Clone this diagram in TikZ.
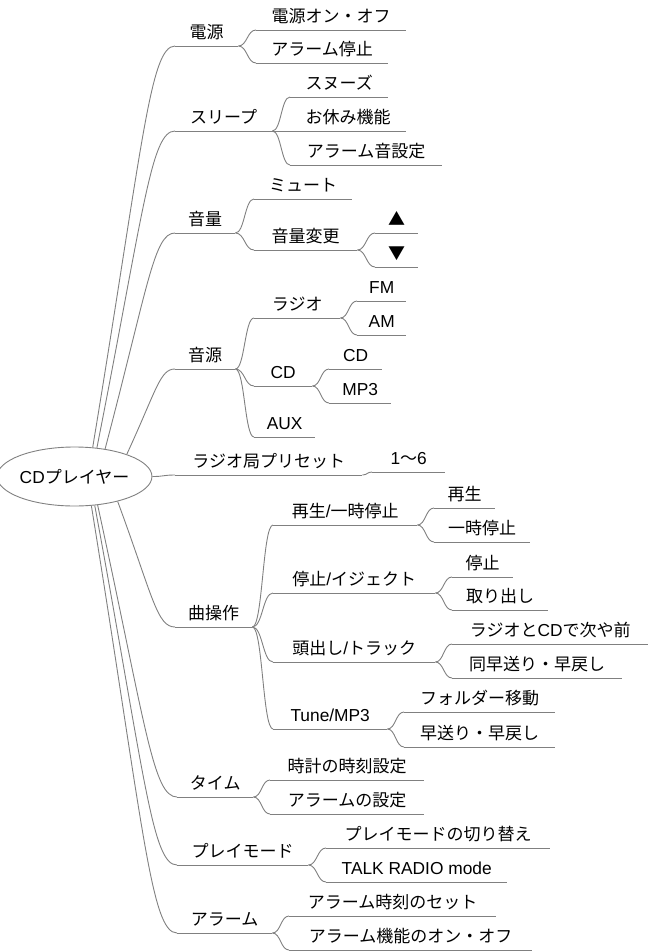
\documentclass[tikz,border=0pt]{standalone}
\usepackage{fontspec}
\setmainfont{Noto Sans CJK JP}
\newfontfamily\latfont{Liberation Sans}[Scale=1.02]
\newcommand\lat[1]{{\latfont #1}}
\usetikzlibrary{shapes.geometric,calc}
\definecolor{linegray}{RGB}{128,128,128}
\tikzset{
  line/.style={draw=linegray, line width=0.9pt},
  topic/.style={anchor=south west, inner xsep=0pt, inner ysep=0pt,
    text depth=7pt, font=\fontsize{17}{20}\selectfont, text=black},
  hcurve/.style={to path={let \p1=(\tikztostart), \p2=(\tikztotarget),
    \n1={0.5*(\x2-\x1)} in .. controls +(\n1,0) and +(-\n1,0) .. (\tikztotarget)}}
}
\begin{document}
\begin{tikzpicture}[x=1pt,y=-1pt]
\useasboundingbox (0,0) rectangle (648,951);
% root
\node[ellipse, draw=linegray, line width=0.9pt, minimum width=147pt, minimum height=59pt,
  inner sep=0pt, font=\fontsize{17}{20}\selectfont] (root) at (74.5,476.5) {\lat{CD}プレイヤー};
% level 1
\node[topic, minimum width=63pt] (A) at (175,46) {電源};
\node[topic, minimum width=97pt] (B) at (175,131) {スリープ};
\node[topic, minimum width=60pt] (C) at (175,233) {音量};
\node[topic, minimum width=60pt] (D) at (175,369) {音源};
\node[topic, minimum width=187pt] (E) at (175,475) {ラジオ局プリセット};
\node[topic, minimum width=77pt] (F) at (175,627) {曲操作};
\node[topic, minimum width=76pt] (G) at (177,797) {タイム};
\node[topic, minimum width=131pt] (H) at (177,865) {プレイモード};
\node[topic, minimum width=95pt] (I) at (177,933) {アラーム};
% level 2+
\node[topic, minimum width=150pt] (A1) at (256,30) {電源オン・オフ};
\node[topic, minimum width=132pt] (A2) at (256,63) {アラーム停止};
\node[topic, minimum width=98pt] (B1) at (290,97) {スヌーズ};
\node[topic, minimum width=116pt] (B2) at (290,131) {お休み機能};
\node[topic, minimum width=152pt] (B3) at (290,165) {アラーム音設定};
\node[topic, minimum width=98pt] (C1) at (254,199) {ミュート};
\node[topic, minimum width=103pt] (C2) at (254,250) {音量変更};
\node[topic, minimum width=43pt] (C2a) at (375,233) {▲};
\node[topic, minimum width=43pt] (C2b) at (375,267) {▼};
\node[topic, minimum width=86pt] (D1) at (254,318) {ラジオ};
\node[topic, minimum width=49pt] (D1a) at (357,301) {\lat{FM}};
\node[topic, minimum width=49pt] (D1b) at (357,335) {\lat{AM}};
\node[topic, minimum width=58pt] (D2) at (254,386) {\lat{CD}};
\node[topic, minimum width=53pt] (D2a) at (329,369) {\lat{CD}};
\node[topic, minimum width=62pt] (D2b) at (329,403) {\lat{MP3}};
\node[topic, minimum width=61pt] (D3) at (254,437) {\lat{AUX}};
\node[topic, minimum width=73pt] (E1) at (372,472) {\lat{1}〜\lat{6}};
\node[topic, minimum width=144pt] (F1) at (273,525) {再生\lat{/}一時停止};
\node[topic, minimum width=61pt] (F1a) at (434,508) {再生};
\node[topic, minimum width=96pt] (F1b) at (434,542) {一時停止};
\node[topic, minimum width=162pt] (F2) at (273,593) {停止\lat{/}イジェクト};
\node[topic, minimum width=61pt] (F2a) at (452,577) {停止};
\node[topic, minimum width=96pt] (F2b) at (452,610) {取り出し};
\node[topic, minimum width=162pt] (F3) at (273,662) {頭出し\lat{/}トラック};
\node[topic, minimum width=196pt] (F3a) at (452,644) {ラジオと\lat{CD}で次や前};
\node[topic, minimum width=170pt] (F3b) at (452,678) {同早送り・早戻し};
\node[topic, minimum width=114pt] (F4) at (273,729) {\lat{Tune/MP3}};
\node[topic, minimum width=151pt] (F4a) at (404,712) {フォルダー移動};
\node[topic, minimum width=151pt] (F4b) at (404,747) {早送り・早戻し};
\node[topic, minimum width=154pt] (G1) at (270,780) {時計の時刻設定};
\node[topic, minimum width=154pt] (G2) at (270,814) {アラームの設定};
\node[topic, minimum width=224pt] (H1) at (326,848) {プレイモードの切り替え};
\node[topic, minimum width=181pt] (H2) at (326,882) {\lat{TALK RADIO mode}};
\node[topic, minimum width=207pt] (I1) at (289,916) {アラーム時刻のセット};
\node[topic, minimum width=243pt] (I2) at (289,950) {アラーム機能のオン・オフ};
% underlines
\foreach \n in {A,B,C,D,E,F,G,H,I,A1,A2,B1,B2,B3,C1,C2,C2a,C2b,D1,D1a,D1b,D2,D2a,D2b,D3,E1,
  F1,F1a,F1b,F2,F2a,F2b,F3,F3a,F3b,F4,F4a,F4b,G1,G2,H1,H2,I1,I2}
  \draw[line] (\n.south west) -- (\n.south east);
% root connectors
\draw[line] (root.58.6) .. controls +(50,-302) and +(-25,0) .. (A.south west);
\draw[line] (root.52.7) .. controls +(47,-238) and +(-24,0) .. (B.south west);
\draw[line] (root.42.5) .. controls +(43,-163) and +(-21,0) .. (C.south west);
\draw[line] (root.23) .. controls +(30,-65) and +(-15,0) .. (D.south west);
\draw[line] (root.east) .. controls +(12,0) and +(-12,0) .. (E.south west);
\draw[line] (root.-30.4) .. controls +(35,95) and +(-18,0) .. (F.south west);
\draw[line] (root.-51.3) .. controls +(48,220) and +(-24,0) .. (G.south west);
\draw[line] (root.-55.6) .. controls +(50,270) and +(-25,0) .. (H.south west);
\draw[line] (root.-60.1) .. controls +(52,321) and +(-26,0) .. (I.south west);
% child connectors
\foreach \p/\c in {A/A1,A/A2,B/B1,B/B2,B/B3,C/C1,C/C2,C2/C2a,C2/C2b,D/D1,D/D2,D/D3,
  D1/D1a,D1/D1b,D2/D2a,D2/D2b,E/E1,F/F1,F/F2,F/F3,F/F4,F1/F1a,F1/F1b,F2/F2a,F2/F2b,
  F3/F3a,F3/F3b,F4/F4a,F4/F4b,G/G1,G/G2,H/H1,H/H2,I/I1,I/I2}
  \draw[line] (\p.south east) to[hcurve] (\c.south west);
\end{tikzpicture}
\end{document}
